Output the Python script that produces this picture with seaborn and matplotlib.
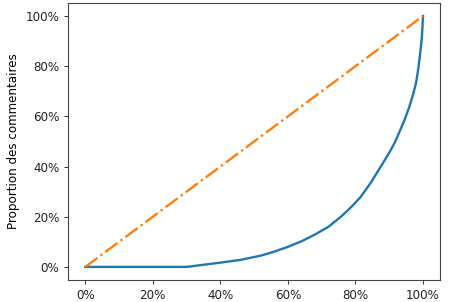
import numpy as np
import pandas as pd
import matplotlib
matplotlib.use('Agg')
import matplotlib.pyplot as plt
from matplotlib.ticker import PercentFormatter
import seaborn as sns

# courbe de Lorenz
part_x = [0.0, 0.30, 0.40, 0.46, 0.52, 0.56, 0.60, 0.64, 0.68, 0.72, 0.757,
          0.79, 0.816, 0.845, 0.875, 0.90, 0.915, 0.93, 0.945, 0.958, 0.969,
          0.978, 0.982, 0.986, 0.992, 0.996, 0.998, 1.0]
part_y = [0.0, 0.0, 0.017, 0.028, 0.045, 0.061, 0.080, 0.102, 0.129, 0.160,
          0.20, 0.242, 0.28, 0.335, 0.40, 0.455, 0.492, 0.537, 0.585, 0.632,
          0.68, 0.725, 0.755, 0.79, 0.855, 0.905, 0.945, 1.0]
diag = [0.0, 1.0]

plt.rcParams['font.size'] = 8.6

fig = plt.figure(figsize=(4.65, 3.02), dpi=100)
ax = fig.add_axes([0.147, 0.073, 0.799, 0.918])

df = pd.DataFrame({'x': part_x, 'y': part_y})
sns.lineplot(data=df, x='x', y='y', ax=ax, color='#1f77b4', linewidth=1.7,
             sort=False, estimator=None)
sns.lineplot(x=diag, y=diag, ax=ax, color='#ff7f0e', linewidth=1.7,
             linestyle='-.')

ax.xaxis.set_major_formatter(PercentFormatter(1.0, decimals=0))
ax.yaxis.set_major_formatter(PercentFormatter(1.0, decimals=0))
ax.set_xticks([0, 0.2, 0.4, 0.6, 0.8, 1.0])
ax.set_yticks([0, 0.2, 0.4, 0.6, 0.8, 1.0])
ax.set_xlim(-0.05, 1.05)
ax.set_ylim(-0.052, 1.053)
ax.set_xlabel('')
ax.set_ylabel('Proportion des commentaires')
ax.tick_params(length=3, width=0.7, colors='#333333', labelcolor='#222222')
for s in ax.spines.values():
    s.set_linewidth(0.8)
    s.set_color('#444444')

fig.savefig('out.png', dpi=100)
